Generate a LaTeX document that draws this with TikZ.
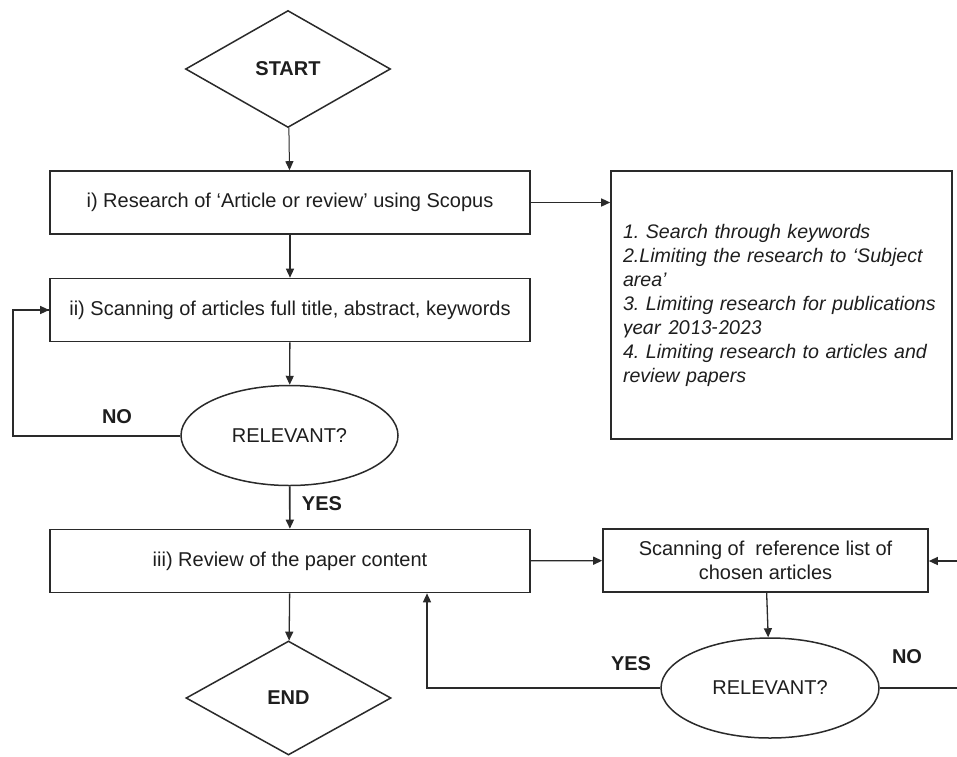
\documentclass[tikz,border=0pt]{standalone}
\usepackage{fontspec}
\setmainfont{Liberation Sans}
\newfontfamily\yearfont{Carlito}
\usetikzlibrary{shapes.geometric,arrows.meta}
\definecolor{ink}{HTML}{1E1E1E}
\definecolor{edge}{HTML}{2A2A2A}
\frenchspacing
\hyphenpenalty=10000

\begin{document}
\begin{tikzpicture}[x=1pt, y=-1pt,
    box/.style={draw=edge, line width=1.6pt, rectangle, minimum width=480pt, minimum height=63pt, inner sep=0pt, text=ink, font=\fontsize{20}{24}\selectfont},
    term/.style={draw=edge, line width=1.5pt, diamond, minimum width=205pt, minimum height=117pt, inner sep=0pt, text=ink, font=\bfseries\fontsize{20}{24}\selectfont},
    test/.style={draw=edge, line width=1.5pt, ellipse, minimum width=217pt, minimum height=100pt, inner sep=0pt, text=ink, font=\fontsize{20}{24}\selectfont},
    answer/.style={text=ink, font=\bfseries\fontsize{20}{24}\selectfont},
    arrow/.style={draw=edge, line width=1.3pt, -{Triangle[length=9pt, width=8pt]}},
    loopline/.style={draw=edge, line width=2pt}]
    \useasboundingbox (0,0) rectangle (957,756);
    \fill[white] (0,0) rectangle (957,756);
    \node[term] (start) at (288,69) {START};
    \node[box] (research) at (290,202.5) {i) Research of ‘Article or review’ using Scopus};
    \node[draw=edge, line width=1.6pt, rectangle, text width=317pt, inner xsep=12pt, minimum height=268pt, align=left, text=ink, font=\itshape\fontsize{19.6}{24}\selectfont] (criteria) at (781.5,305)
        {\mbox{1. Search through keywords}\\\mbox{2.Limiting the research to ‘Subject}\\area’\\\mbox{3. Limiting research for publications}\\{\yearfont\fontsize{21.5}{24}\selectfont year 2013-2023}\\\mbox{4. Limiting research to articles and}\\review papers};
    \node[box] (scanning) at (290,310) {ii) Scanning of articles full title, abstract, keywords};
    \node[test] (relevant) at (289.5,435.5) {RELEVANT?};
    \node[box] (review) at (290,561) {iii) Review of the paper content};
    \node[term, minimum height=114pt] (finish) at (288.5,698) {END};
    \node[box, minimum width=325pt, align=center] (reflist) at (765.5,560.5) {Scanning of \ reference list of\\chosen articles};
    \node[test, minimum width=218pt] (recheck) at (770,688) {RELEVANT?};
    \node[answer] (no) at (117,417) {NO};
    \node[answer] (yes) at (322,504) {YES};
    \node[answer] (yesback) at (631,664) {YES};
    \node[answer] (noback) at (907,657) {NO};
    \coordinate (leftturn) at (13,435.5);
    \coordinate (backturn) at (427,688);
    \coordinate (rightout) at (962,688);
    \coordinate (rightin) at (962,561);
    \draw[arrow, line width=1pt] (start) -- (research);
    \draw[arrow] (research.east) -- (research.east -| criteria.west);
    \draw[arrow] (research) -- (scanning);
    \draw[arrow] (scanning) -- (relevant);
    \draw[loopline] (relevant.west) -- (leftturn) |- (scanning.west);
    \draw[arrow] ([xshift=-20pt]scanning.west) -- (scanning.west);
    \draw[arrow, line width=1.6pt] (relevant) -- (review);
    \draw[arrow] (review) -- (finish);
    \draw[arrow] (review) -- (reflist);
    \draw[arrow] (reflist) -- (recheck);
    \draw[arrow] (recheck.west) -- (backturn) -- (backturn |- review.south);
    \draw[loopline] (recheck.east) -- (rightout);
    \draw[arrow] (rightin) -- (rightin -| reflist.east);
\end{tikzpicture}
\end{document}
